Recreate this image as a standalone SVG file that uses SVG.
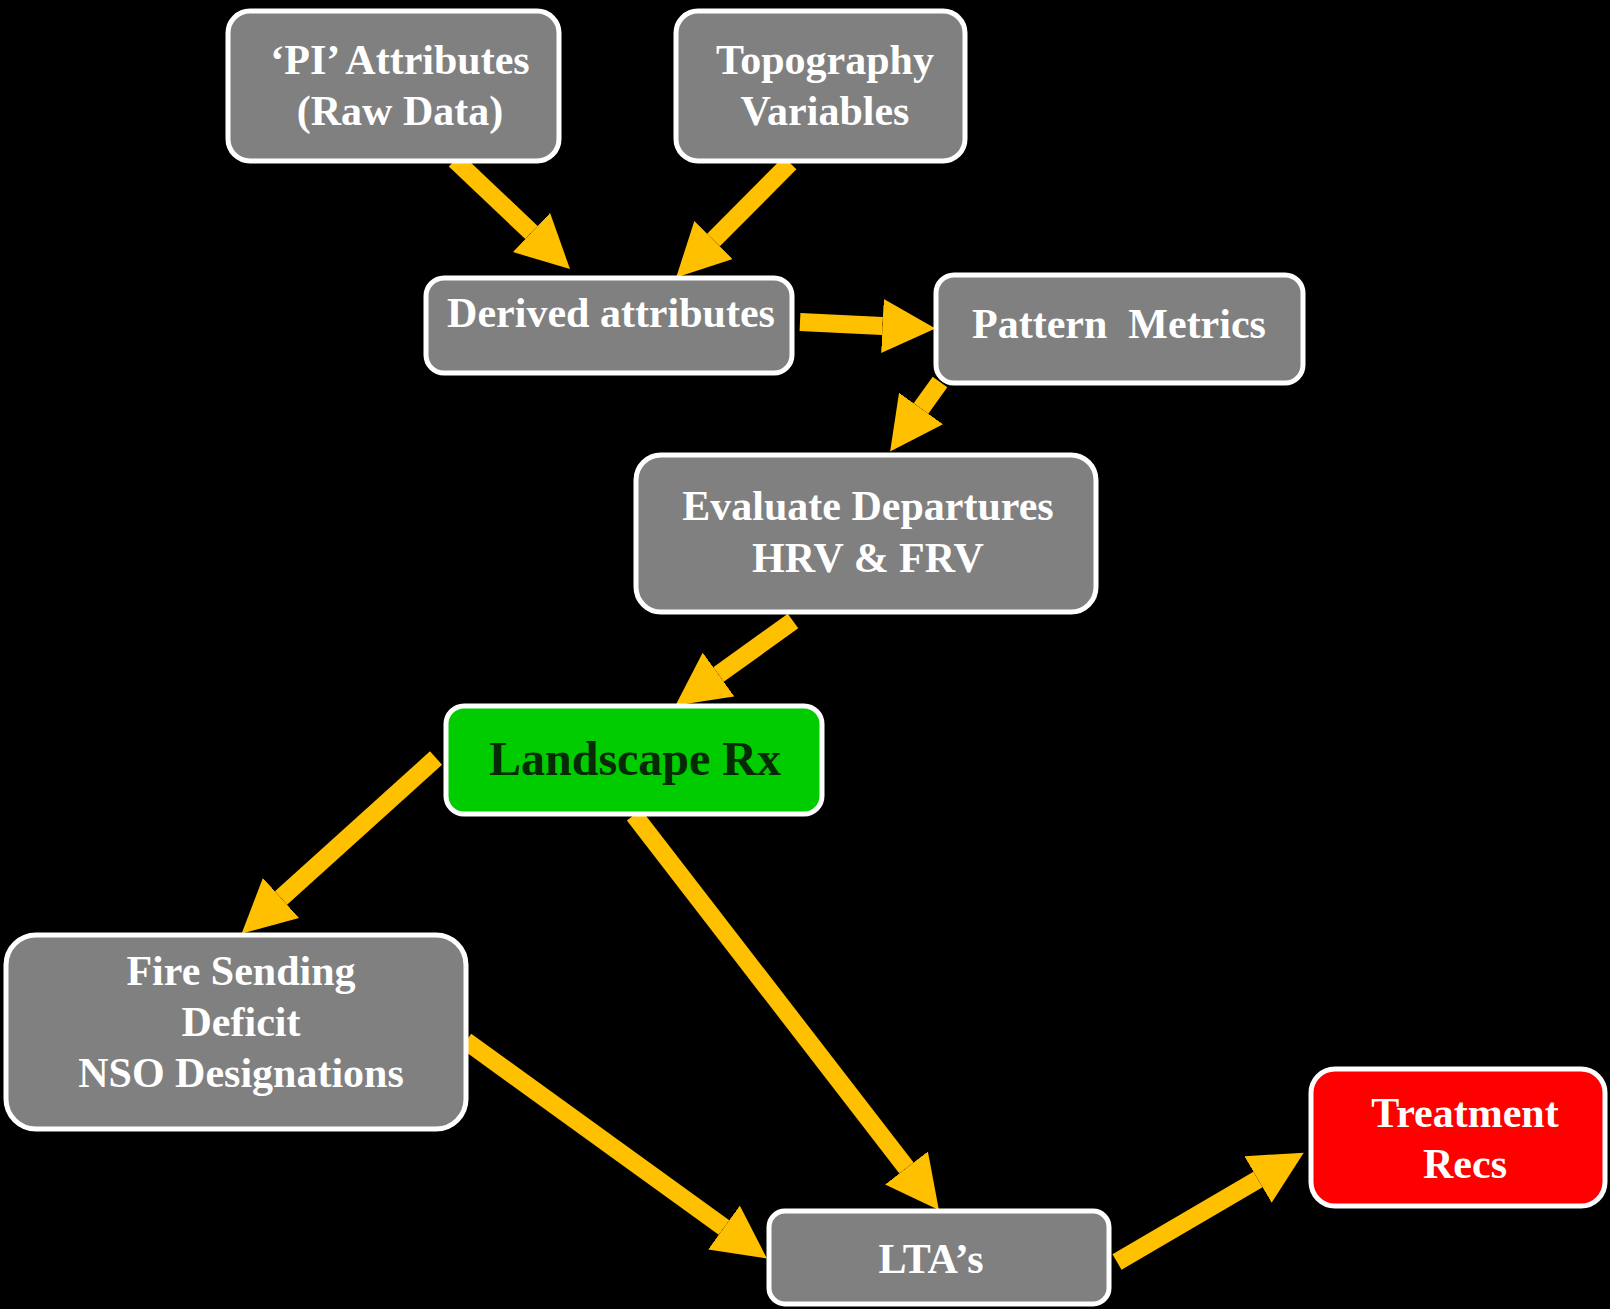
<svg xmlns="http://www.w3.org/2000/svg" width="1610" height="1309" viewBox="0 0 1610 1309">
<defs>
<style>
.box{stroke:#ffffff;stroke-width:5}
.gray{fill:#808080}
.green{fill:#00cc00}
.red{fill:#ff0000}
.t{font-family:"Liberation Serif","Times New Roman",serif;font-weight:bold;font-size:42px;fill:#ffffff;text-anchor:middle;white-space:pre}
.dark{fill:#062a06;font-size:48px}
.conn{stroke:#ffc000;stroke-width:18;fill:none;marker-end:url(#ah)}
</style>
<marker id="ah" markerUnits="userSpaceOnUse" viewBox="0 0 53 54" markerWidth="53" markerHeight="54" refX="0" refY="27" orient="auto">
<path d="M0,0 L53,27 L0,54 Z" fill="#ffc000"/>
</marker>
</defs>
<rect width="1610" height="1309" fill="#000000"/>
<g id="connectors">
<line class="conn" x1="455" y1="160" x2="531.5" y2="232.5"/>
<line class="conn" x1="790" y1="163" x2="713.5" y2="240"/>
<line class="conn" x1="800" y1="322" x2="882.5" y2="326"/>
<line class="conn" x1="940" y1="382" x2="921" y2="408.5"/>
<line class="conn" x1="793" y1="621" x2="718.5" y2="674.5"/>
<line class="conn" x1="436" y1="758" x2="281" y2="898"/>
<line class="conn" x1="634" y1="815" x2="906.5" y2="1168"/>
<line class="conn" x1="466" y1="1041" x2="724" y2="1227.5"/>
<line class="conn" x1="1117" y1="1262" x2="1258" y2="1179.5"/>
</g>
<g id="pi-attributes">
<rect class="box gray" x="228" y="11" width="331" height="150" rx="22"/>
<text class="t" x="400" y="74">‘PI’ Attributes</text>
<text class="t" x="400" y="125">(Raw Data)</text>
</g>
<g id="topography">
<rect class="box gray" x="676" y="11" width="289" height="150" rx="22"/>
<text class="t" x="825" y="74">Topography</text>
<text class="t" x="825" y="125">Variables</text>
</g>
<g id="derived">
<rect class="box gray" x="426" y="278" width="366" height="95" rx="18"/>
<text class="t" x="611" y="327">Derived attributes</text>
</g>
<g id="pattern">
<rect class="box gray" x="936" y="275" width="367" height="108" rx="18"/>
<text class="t" x="1119" y="338">Pattern  Metrics</text>
</g>
<g id="evaluate">
<rect class="box gray" x="636" y="455" width="460" height="157" rx="25"/>
<text class="t" x="868" y="520">Evaluate Departures</text>
<text class="t" x="868" y="572">HRV &amp; FRV</text>
</g>
<g id="landscape">
<rect class="box green" x="446" y="706" width="376" height="108" rx="18"/>
<text class="t dark" x="635" y="775">Landscape Rx</text>
</g>
<g id="fire">
<rect class="box gray" x="6" y="935" width="460" height="194" rx="30"/>
<text class="t" x="241" y="985">Fire Sending</text>
<text class="t" x="241" y="1036">Deficit</text>
<text class="t" x="241" y="1087">NSO Designations</text>
</g>
<g id="ltas">
<rect class="box gray" x="769" y="1211" width="340" height="93" rx="16"/>
<text class="t" x="931" y="1273">LTA’s</text>
</g>
<g id="treatment">
<rect class="box red" x="1311" y="1069" width="294" height="137" rx="24"/>
<text class="t" x="1465" y="1127">Treatment</text>
<text class="t" x="1465" y="1178">Recs</text>
</g>
</svg>
